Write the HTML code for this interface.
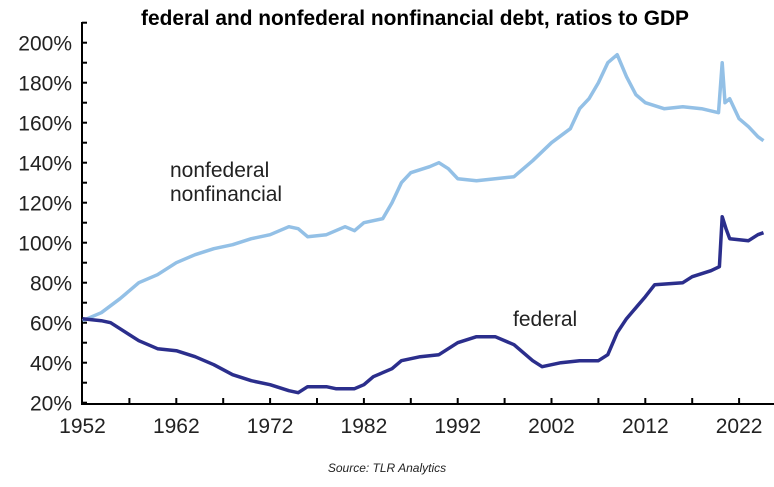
<!DOCTYPE html>
<html><head><meta charset="utf-8"><style>
body{margin:0;background:#fff;}
svg text{font-family:"Liberation Sans",sans-serif;}
</style></head><body>
<svg width="774" height="482" viewBox="0 0 774 482">
<text x="141" y="25" font-size="21" font-weight="bold" textLength="548" lengthAdjust="spacingAndGlyphs">federal and nonfederal nonfinancial debt, ratios to GDP</text>
<g id="axes"></g>
<g id="series"></g>
<text x="170" y="177" font-size="21" fill="#222">nonfederal</text>
<text x="170" y="201" font-size="21" fill="#222">nonfinancial</text>
<text x="513" y="326" font-size="21" fill="#222">federal</text>
<text x="387" y="472" text-anchor="middle" font-size="12" font-style="italic" fill="#222">Source: TLR Analytics</text>
</svg>
<script>
const yTicks=[20,40,60,80,100,120,140,160,180,200];
const xTicks=[1952,1962,1972,1982,1992,2002,2012,2022];
const nonfedYears=[1952,1954,1956,1958,1960,1962,1964,1966,1968,1970,1972,1974,1975,1976,1978,1980,1981,1982,1984,1985,1986,1987,1989,1990,1991,1992,1994,1996,1998,2000,2002,2004,2005,2006,2007,2008,2009,2010,2011,2012,2014,2016,2018,2019.8,2020.2,2020.5,2021,2022,2023,2024,2024.6];
const nonfedValues=[61,65,72,80,84,90,94,97,99,102,104,108,107,103,104,108,106,110,112,120,130,135,138,140,137,132,131,132,133,141,150,157,167,172,180,190,194,183,174,170,167,168,167,165,190,170,172,162,158,153,151];
const fedYears=[1952,1954,1955,1956,1958,1960,1962,1964,1966,1968,1970,1972,1974,1975,1976,1978,1979,1981,1982,1983,1985,1986,1988,1990,1992,1994,1996,1998,2000,2001,2003,2005,2007,2008,2009,2010,2012,2013,2016,2017,2019,2019.9,2020.2,2020.6,2021,2023,2024,2024.6];
const fedValues=[62,61,60,57,51,47,46,43,39,34,31,29,26,25,28,28,27,27,29,33,37,41,43,44,50,53,53,49,41,38,40,41,41,44,55,62,73,79,80,83,86,88,113,107,102,101,104,105];
const NS="http://www.w3.org/2000/svg";
const xs=yr=>82.5+(yr-1952)*9.38;
const ys=v=>402.7-(v-20)*2.0;
const axes=document.getElementById('axes');
function mk(tag,attrs,parent){const e=document.createElementNS(NS,tag);for(const k in attrs)e.setAttribute(k,attrs[k]);parent.appendChild(e);return e;}
let ya=mk('line',{x1:82,y1:22,x2:82,y2:404,stroke:'#000','stroke-width':2},axes);


let xa=mk('line',{x1:81,y1:404,x2:774,y2:404,stroke:'#000','stroke-width':2},axes);


for(let v=30;v<=210;v+=20){if(ys(v)>20)mk('line',{x1:82,y1:ys(v),x2:87,y2:ys(v),stroke:'#000','stroke-width':2},axes);}
yTicks.forEach(v=>{
 mk('line',{x1:82,y1:ys(v),x2:87,y2:ys(v),stroke:'#000','stroke-width':2},axes);
 const t=mk('text',{x:72,y:ys(v)+8,'text-anchor':'end','font-size':21,fill:'#222'},axes);
 t.textContent=v+'%';
 
 
});
for(let yr=1957;yr<=2024;yr+=5)mk('line',{x1:xs(yr),y1:398,x2:xs(yr),y2:404,stroke:'#000','stroke-width':2},axes);
xTicks.forEach(yr=>{
 const t=mk('text',{x:xs(yr),y:433,'text-anchor':'middle','font-size':21,fill:'#222'},axes);
 t.textContent=yr;
 
 
});
const ser=document.getElementById('series');
function line(yrs,vals,color,name){
 const d=yrs.map((y,i)=>(i?'L':'M')+xs(y).toFixed(1)+' '+ys(vals[i]).toFixed(1)).join(' ');
 const p=mk('path',{d:d,fill:'none',stroke:color,'stroke-width':3.5,'stroke-linejoin':'round'},ser);
 
 
}
line(nonfedYears,nonfedValues,'#93c0e6','nonfederal-line');
line(fedYears,fedValues,'#2b2e8c','federal-line');
</script>
</body></html>
